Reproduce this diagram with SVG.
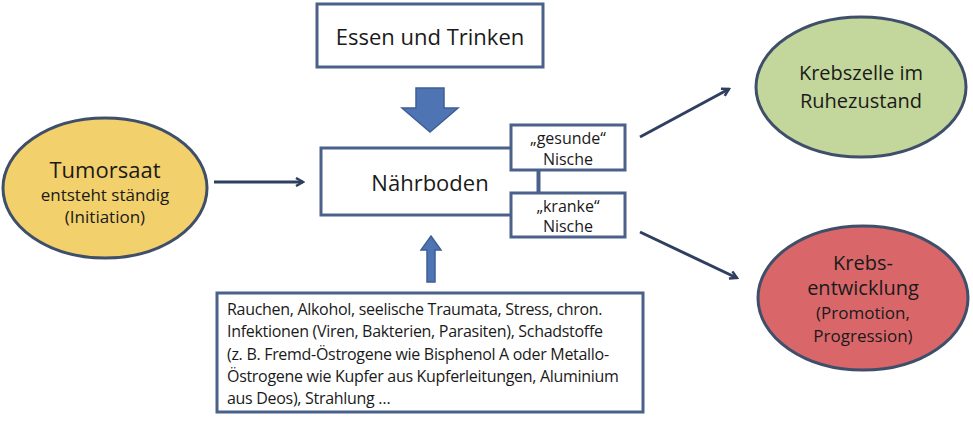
<svg xmlns="http://www.w3.org/2000/svg" width="973" height="423" viewBox="0 0 973 423">
<style>
text{font-family:"Open Sans","Liberation Sans",sans-serif;fill:#1a1a1a}
.box{fill:#fff;stroke:#4a6189;stroke-width:3}
.ell{stroke:#3f4f6a;stroke-width:3}
.con{stroke:#2f3f5f;stroke-width:3;fill:none;marker-end:url(#ah)}
</style>
<defs><marker id="ah" markerWidth="10" markerHeight="10" refX="8" refY="5" orient="auto" markerUnits="userSpaceOnUse"><path d="M1,1 L8,5 L1,9" fill="none" stroke="#2f3f5f" stroke-width="2.5"/></marker></defs>
<rect width="973" height="423" fill="#fff"/>
<g id="essen"><rect class="box" x="317" y="4" width="226" height="63"/><text x="430" y="45" font-size="22" text-anchor="middle">Essen und Trinken</text></g>
<g id="naehrboden"><rect class="box" x="321" y="148" width="218" height="67"/><text x="430" y="191" font-size="22" text-anchor="middle">Nährboden</text></g>
<g id="gesunde"><rect class="box" x="511" y="125" width="114" height="45"/><text x="568" y="144" font-size="16" text-anchor="middle">„gesunde“</text><text x="568" y="165" font-size="16" text-anchor="middle">Nische</text></g>
<g id="kranke"><rect class="box" x="511" y="193" width="114" height="44"/><text x="568" y="212" font-size="16" text-anchor="middle">„kranke“</text><text x="568" y="232" font-size="16" text-anchor="middle">Nische</text></g>
<g id="tumorsaat"><ellipse class="ell" cx="105" cy="188" rx="102" ry="70" fill="#f2d06b"/><text x="105" y="178" font-size="22" text-anchor="middle">Tumorsaat</text><text x="105" y="201" font-size="17" text-anchor="middle">entsteht ständig</text><text x="105" y="223" font-size="17" text-anchor="middle">(Initiation)</text></g>
<g id="ruhe"><ellipse class="ell" cx="861" cy="87" rx="105" ry="70" fill="#c3d69b"/><text x="861" y="80" font-size="20" text-anchor="middle">Krebszelle im</text><text x="861" y="108" font-size="20" text-anchor="middle">Ruhezustand</text></g>
<g id="entwicklung"><ellipse class="ell" cx="863" cy="298" rx="105" ry="72" fill="#d9676a"/><text x="863" y="270" font-size="20" text-anchor="middle">Krebs-</text><text x="863" y="295" font-size="20" text-anchor="middle">entwicklung</text><text x="863" y="319" font-size="17" text-anchor="middle">(Promotion,</text><text x="863" y="342" font-size="17" text-anchor="middle">Progression)</text></g>
<g id="faktoren"><rect class="box" x="217" y="293" width="426" height="119"/>
<text font-size="16" letter-spacing="-0.3"><tspan x="227" y="315">Rauchen, Alkohol, seelische Traumata, Stress, chron.</tspan><tspan x="227" y="337">Infektionen (Viren, Bakterien, Parasiten), Schadstoffe</tspan><tspan x="227" y="360">(z. B. Fremd-Östrogene wie Bisphenol A oder Metallo-</tspan><tspan x="227" y="382">Östrogene wie Kupfer aus Kupferleitungen, Aluminium</tspan><tspan x="227" y="404">aus Deos), Strahlung …</tspan></text></g>
<g id="connectors">
<path d="M416,88 H444 V108 H458 L430,132 L402,108 H416 Z" fill="#4f74b3" stroke="#3f5f95" stroke-width="1.5"/>
<path d="M427,282 V250 H421 L431,236 L441,250 H435 V282 Z" fill="#4f74b3" stroke="#3f5f95" stroke-width="1.5"/>
<line x1="538" y1="170" x2="538" y2="193" stroke="#4a6189" stroke-width="3"/>
<line class="con" x1="214" y1="182" x2="303" y2="182"/>
<line class="con" x1="640" y1="137" x2="729" y2="89"/>
<line class="con" x1="640" y1="232" x2="737" y2="278"/>
</g>
</svg>
